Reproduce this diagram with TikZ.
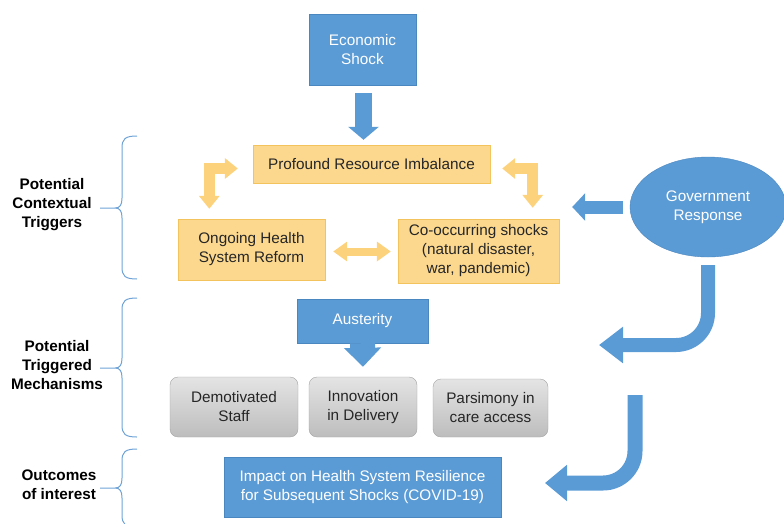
\documentclass[tikz,border=0pt]{standalone}
\usepackage{fontspec}
\setmainfont{Liberation Sans}
\usepackage{tikz}
\usetikzlibrary{positioning, calc, shapes.geometric, arrows.meta}
\definecolor{shockblue}{HTML}{5B9BD5}
\definecolor{shockedge}{HTML}{4A86C0}
\definecolor{triggerfill}{HTML}{FCD88E}
\definecolor{triggeredge}{HTML}{F3C45E}
\definecolor{triggerarrow}{HTML}{FCD27C}
\definecolor{mechtop}{HTML}{E4E4E4}
\definecolor{mechbottom}{HTML}{BDBDBD}
\definecolor{mechedge}{HTML}{A3A3A3}
\definecolor{bracecol}{HTML}{6FA3D8}
\tikzset{
	bluebox/.style={draw=shockedge, fill=shockblue, text=white, align=center, inner sep=0pt}
}
\tikzset{
	yellowbox/.style={draw=triggeredge, fill=triggerfill, text=black!85, align=center, inner sep=0pt}
}
\tikzset{
	graybox/.style={draw=mechedge, top color=mechtop, bottom color=mechbottom, rounded corners=8pt, text=black!85, align=center, inner sep=0pt}
}
\tikzset{
	sidelabel/.style={font=\fontsize{15.3}{19}\selectfont\bfseries, align=center}
}
\tikzset{
	yellowarrow/.style={draw=triggerarrow, line width=11pt, {Triangle[width=20pt,length=13pt]}-{Triangle[width=20pt,length=13pt]}}
}
\tikzset{
	bluearrow/.style={draw=shockblue}
}
% curly brace on the left, with a stub pointing at its label
\newcommand{\sidebrace}[3]{%
  \draw[bracecol, line width=1pt]
    (137,#1) .. controls (125,#1) and (122,#1+3) .. (122,#1+12)
    -- (122,#2-10) .. controls (122,#2-3) and (120,#2) .. (115,#2)
    .. controls (120,#2) and (122,#2+3) .. (122,#2+10)
    -- (122,#3-12) .. controls (122,#3-3) and (125,#3) .. (137,#3)
    (100,#2) -- (115,#2);
}
\begin{document}
\begin{tikzpicture}[x=1pt, y=-1pt, font=\fontsize{15.3}{19}\selectfont]
  \useasboundingbox (0,0) rectangle (784,523);
  % shock and contextual triggers
  \node[bluebox, minimum width=107pt, minimum height=71pt] (shock) at (362.5,49.5) {Economic\\Shock};
  \node[yellowbox, minimum width=237pt, minimum height=38pt] (imbalance) at (371.5,164) {Profound Resource Imbalance};
  \node[yellowbox, minimum width=147pt, minimum height=61pt] (reform) at (251.5,249.5) {Ongoing Health\\System Reform};
  \node[yellowbox, minimum width=161pt, minimum height=64pt] (cooccur) at (478.5,251) {Co-occurring shocks\\(natural disaster,\\war, pandemic)};
  \node[bluebox, ellipse, minimum width=156pt, minimum height=100pt] (gov) at (708,207) {Government\\Response};
  % mechanisms
  \node[bluebox, minimum width=131pt, minimum height=44pt] (austerity) at (362.5,321) {Austerity};
  \node[graybox, minimum width=128pt, minimum height=60pt] (staff) at (234,407) {Demotivated\\Staff};
  \node[graybox, minimum width=108pt, minimum height=60pt] (innovation) at (363,407) {Innovation\\in Delivery};
  \node[graybox, minimum width=115pt, minimum height=58pt] (parsimony) at (490.5,408) {Parsimony in\\care access};
  % outcome
  \node[bluebox, minimum width=277pt, minimum height=60pt] (impact) at (362.5,487) {Impact on Health System Resilience\\for Subsequent Shocks (COVID-19)};

  % block arrows
  \draw[bluearrow, line width=17pt, -{Triangle[width=30pt,length=13pt]}]
    ($(shock.south)+(1,8)$) -- ($(shock.south |- imbalance.north)+(1,-5)$);
  \draw[yellowarrow] ($(reform.north west)+(31.5,-10)$) |- ($(imbalance.west)+(-15,4.5)$);
  \draw[yellowarrow] ($(cooccur.north east)+(-26.5,-11)$) |- ($(imbalance.east)+(12,4.5)$);
  \draw[yellowarrow, line width=8pt, {Triangle[width=19pt,length=14pt]}-{Triangle[width=19pt,length=14pt]}]
    ($(reform.east)+(8,2)$) -- ($(reform.east -| cooccur.west)+(-7,2)$);
  \draw[bluearrow, line width=13pt, -{Triangle[width=27pt,length=13pt]}]
    ($(gov.west)+(-7,0)$) -- ($(cooccur.east |- gov.west)+(13,0)$);
  \draw[bluearrow, line width=25pt, -{Triangle[width=36pt,length=19pt]}]
    (austerity.south) -- ($(innovation.north)+(0,-10)$);

  % curved arrows from the government response
  \coordinate (mechin) at (599,345);
  \coordinate (outtop) at (635,395);
  \coordinate (outin) at (545,483);
  \draw[bluearrow, line width=14pt, rounded corners=32pt, -{Triangle[width=35pt,length=24pt]}]
    ($(gov.south)+(0,8)$) |- (mechin);
  \draw[bluearrow, line width=15pt, rounded corners=32pt, -{Triangle[width=35pt,length=22pt]}]
    (outtop) |- (outin);

  % braces and their labels
  \sidebrace{136}{208}{279}
  \sidebrace{298}{368}{437}
  \sidebrace{449}{488}{527}
  \node[sidelabel] (ctxlabel) at (52,205) {Potential\\Contextual\\Triggers};
  \node[sidelabel] (mechlabel) at (57,365) {Potential\\Triggered\\Mechanisms};
  \node[sidelabel] (outlabel) at (59,485) {Outcomes\\of interest};
\end{tikzpicture}
\end{document}
